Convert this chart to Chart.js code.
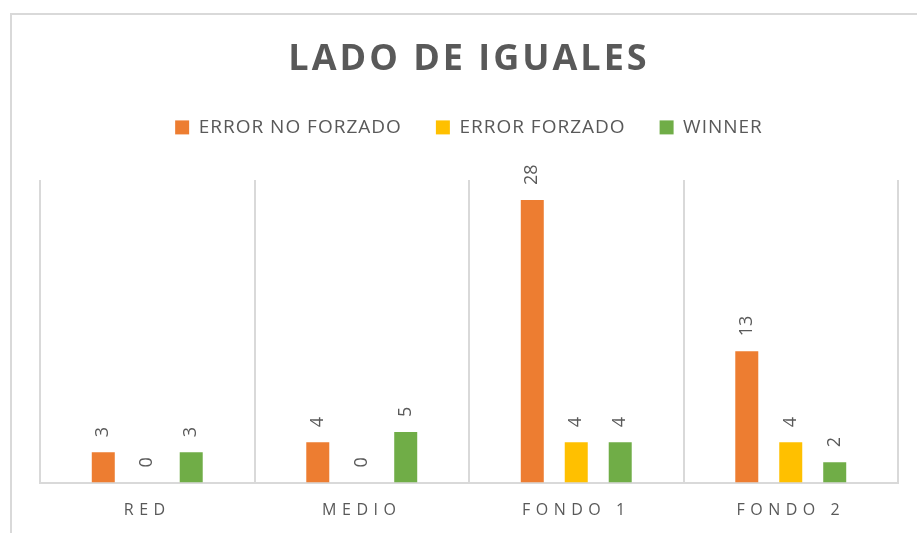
<!DOCTYPE html>
<html>
<head>
<meta charset="utf-8">
<title>Lado de iguales</title>
<script src="https://cdn.jsdelivr.net/npm/chart.js@4.4.1/dist/chart.umd.min.js"></script>
<style>
    body { margin: 0; background: #ffffff; }
    #wrap { width: 917px; height: 533px; }
</style>
</head>
<body>
<div id="wrap"><canvas id="ladoChart" width="917" height="533"></canvas></div>
<script>
// Data
const categories = ['RED', 'MEDIO', 'FONDO 1', 'FONDO 2'];
const seriesNames = ['ERROR NO FORZADO', 'ERROR FORZADO', 'WINNER'];
const errorNoForzado = [3, 4, 28, 13];
const errorForzado = [0, 0, 4, 4];
const winners = [3, 5, 4, 2];
const yTicks = [0, 30];

const seriesColors = ['#ED7D31', '#FFC000', '#70AD47'];
const textColor = '#595959';
const lineColor = '#d9d9d9';

// Light frame around the whole chart (it runs off the right and bottom edge)
const chartFrame = {
    id: 'chartFrame',
    beforeDraw(chart) {
        const ctx = chart.ctx;
        ctx.save();
        ctx.strokeStyle = lineColor;
        ctx.lineWidth = 2;
        ctx.strokeRect(11, 14, 1000, 1000);
        ctx.restore();
    }
};

// Excel style spaced lettering: a little for the legend, wide for categories
const letterSpacing = {
    id: 'letterSpacing',
    beforeLayout(chart) { chart.ctx.letterSpacing = '1px'; },
    beforeDraw(chart) { chart.ctx.letterSpacing = '1px'; },
    afterDatasetsDraw(chart) { chart.ctx.letterSpacing = '5.5px'; },
    afterDraw(chart) { chart.ctx.letterSpacing = '1px'; }
};

// Value labels above each bar, rotated to read bottom to top
const barValueLabels = {
    id: 'barValueLabels',
    afterDatasetsDraw(chart) {
        const ctx = chart.ctx;
        ctx.save();
        ctx.letterSpacing = '0px';
        ctx.font = '18px "Open Sans"';
        ctx.fillStyle = textColor;
        ctx.textAlign = 'left';
        ctx.textBaseline = 'middle';
        chart.data.datasets.forEach((ds, i) => {
            chart.getDatasetMeta(i).data.forEach((bar, j) => {
                ctx.save();
                ctx.translate(bar.x, bar.y - 15);
                ctx.rotate(-Math.PI / 2);
                ctx.fillText(String(ds.data[j]), 0, 0);
                ctx.restore();
            });
        });
        ctx.restore();
    }
};

// Extra room under the legend, and wider lettering for the title
const boxTweaks = {
    id: 'boxTweaks',
    beforeInit(chart) {
        const fitLegend = chart.legend.fit;
        chart.legend.fit = function fit() {
            fitLegend.bind(chart.legend)();
            this.height += 33;
        };
        const drawTitle = chart.titleBlock.draw;
        chart.titleBlock.draw = function draw() {
            const ctx = chart.ctx;
            const prev = ctx.letterSpacing;
            ctx.letterSpacing = '3px';
            drawTitle.apply(chart.titleBlock, arguments);
            ctx.letterSpacing = prev;
        };
    }
};

function makeDataset(label, values, color) {
    return {
        label: label,
        data: values,
        backgroundColor: color,
        borderWidth: 0,
        categoryPercentage: 0.615,
        barPercentage: 0.523
    };
}

function createLadoChart() {
    const ctx = document.getElementById('ladoChart').getContext('2d');
    new Chart(ctx, {
        type: 'bar',
        data: {
            labels: categories,
            datasets: [
                makeDataset(seriesNames[0], errorNoForzado, seriesColors[0]),
                makeDataset(seriesNames[1], errorForzado, seriesColors[1]),
                makeDataset(seriesNames[2], winners, seriesColors[2])
            ]
        },
        options: {
            responsive: false,
            animation: false,
            layout: {
                padding: { left: 40, right: 19, top: 0, bottom: 0 }
            },
            scales: {
                x: {
                    grid: {
                        color: lineColor,
                        lineWidth: 2,
                        drawTicks: false
                    },
                    border: {
                        color: lineColor,
                        width: 2
                    },
                    ticks: {
                        z: 1,
                        color: textColor,
                        font: { family: 'Open Sans', size: 16 },
                        padding: 18,
                        maxRotation: 0,
                        autoSkip: false
                    },
                    afterFit(scale) {
                        scale.height = 50.5;
                    }
                },
                y: {
                    display: false,
                    min: yTicks[0],
                    max: yTicks[1]
                }
            },
            plugins: {
                title: {
                    display: true,
                    text: 'LADO DE IGUALES',
                    color: textColor,
                    font: { family: 'Open Sans', size: 36, weight: 'bold' },
                    padding: { top: 38, bottom: 2.7 }
                },
                legend: {
                    position: 'top',
                    labels: {
                        color: textColor,
                        font: { family: 'Open Sans', size: 19 },
                        boxWidth: 14,
                        boxHeight: 14,
                        padding: 34
                    }
                },
                tooltip: { enabled: false }
            }
        },
        plugins: [chartFrame, boxTweaks, barValueLabels, letterSpacing]
    });
}

document.addEventListener('DOMContentLoaded', function() {
    createLadoChart();
});
</script>
</body>
</html>
